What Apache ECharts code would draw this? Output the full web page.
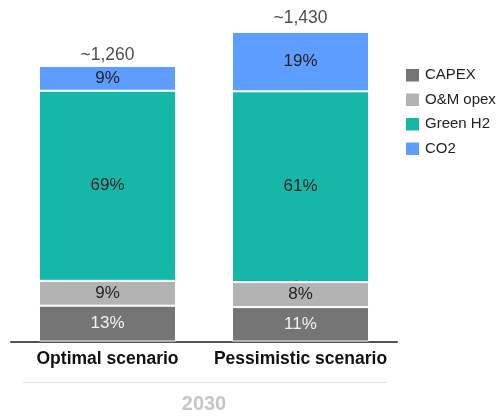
<!DOCTYPE html>
<html>
<head>
<meta charset="utf-8">
<script src="https://cdn.jsdelivr.net/npm/echarts@6/dist/echarts.min.js"></script>
<style>
  html, body { margin: 0; padding: 0; background: #fff; }
  #chart { width: 497px; height: 417px; }
</style>
</head>
<body>
<div id="chart"></div>
<script>
// Cost breakdown of hydrogen production in 2030, two scenarios
const categories = ['Optimal scenario', 'Pessimistic scenario'];
const totals = [1260, 1430];
const totalLabels = ['~1,260', '~1,430'];
const seriesNames = ['CAPEX', 'O&M opex', 'Green H2', 'CO2'];
const capexPct = [13, 11];
const omPct = [9, 8];
const greenPct = [69, 61];
const co2Pct = [9, 19];
const yearLabel = '2030';

const colors = ['#757575', '#b3b3b3', '#15b8a8', '#5c9dff'];
const labelColors = ['#f2f2f2', '#222', '#222', '#222'];
const FONT = 'Liberation Sans, Arial, sans-serif';

const shares = [capexPct, omPct, greenPct, co2Pct];

const barSeries = seriesNames.map((name, i) => ({
  name: name,
  type: 'bar',
  stack: 'cost',
  barWidth: 137,
  data: shares[i].map((p, j) => p / 100 * totals[j]),
  itemStyle: { color: colors[i], borderColor: '#fff', borderWidth: 1 },
  label: {
    show: true,
    position: 'inside',
    fontFamily: FONT,
    fontSize: 17,
    color: labelColors[i],
    formatter: (p) => shares[i][p.dataIndex] + '%'
  },
  emphasis: { disabled: true }
}));

// total above each stack
barSeries.push({
  name: 'total',
  type: 'scatter',
  data: totals,
  clip: false,
  symbolSize: 1,
  itemStyle: { color: 'rgba(0,0,0,0)' },
  label: {
    show: true,
    position: 'top',
    distance: 1,
    fontFamily: FONT,
    fontSize: 17.5,
    color: '#222',
    formatter: (p) => totalLabels[p.dataIndex]
  },
  silent: true
});

const chart = echarts.init(document.getElementById('chart'), null, { renderer: 'canvas' });
chart.setOption({
  animation: false,
  backgroundColor: '#fff',
  grid: { left: 11, right: 100, top: 30.5, bottom: 75.5, containLabel: false },
  legend: {
    data: seriesNames,
    orient: 'vertical',
    left: 404,
    top: 67,
    padding: 0,
    icon: 'rect',
    itemWidth: 15,
    itemHeight: 14.5,
    itemGap: 8,
    textStyle: { fontFamily: FONT, fontSize: 15, color: '#222' },
    selectedMode: false
  },
  xAxis: {
    type: 'category',
    data: categories,
    axisLine: { lineStyle: { color: '#555', width: 2 } },
    axisTick: { show: false },
    axisLabel: {
      interval: 0,
      fontFamily: FONT,
      fontSize: 17.5,
      fontWeight: 'bold',
      color: '#111',
      margin: 9
    }
  },
  yAxis: {
    type: 'value',
    min: 0,
    max: 1422,
    show: false,
    splitLine: { show: false }
  },
  graphic: [
    {
      type: 'line',
      shape: { x1: 23, y1: 382.5, x2: 387, y2: 382.5 },
      style: { stroke: '#e3e3e3', lineWidth: 1 },
      silent: true
    },
    {
      type: 'text',
      x: 204,
      y: 404,
      style: {
        text: yearLabel,
        fontFamily: FONT,
        fontSize: 20,
        fontWeight: 'bold',
        fill: '#c6c6c6',
        textAlign: 'center',
        textVerticalAlign: 'middle'
      },
      silent: true
    }
  ],
  series: barSeries
});
</script>
</body>
</html>
